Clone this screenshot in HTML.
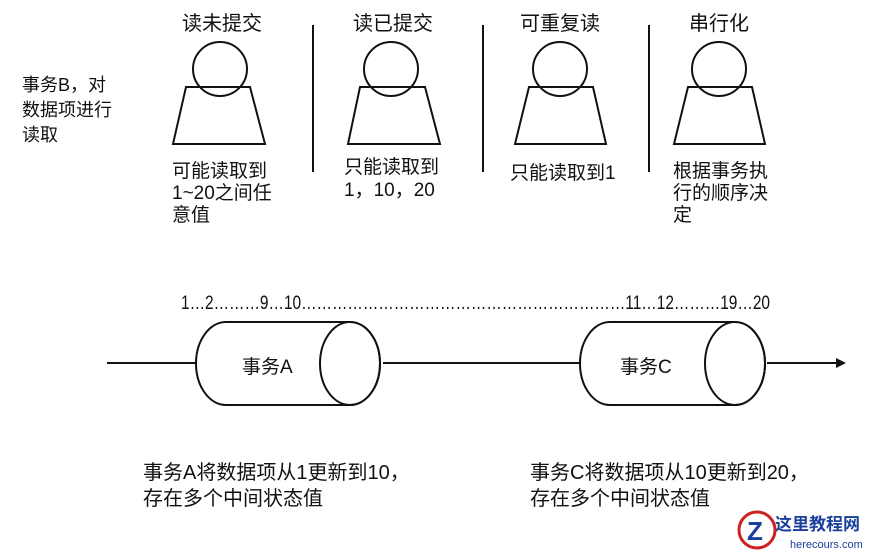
<!DOCTYPE html>
<html><head><meta charset="utf-8"><style>
body{margin:0;background:#fff;}
svg{display:block;}
text{font-family:"Liberation Sans","Noto Sans CJK SC",sans-serif;fill:#111;}
</style></head><body>
<svg width="890" height="556" viewBox="0 0 890 556" xmlns="http://www.w3.org/2000/svg">
<g fill="none" stroke="#111" stroke-width="2">
<circle cx="220" cy="69" r="27"/><polygon points="186,87 250,87 265,144 173,144"/>
<circle cx="391" cy="69" r="27"/><polygon points="360,87 425,87 440,144 348,144"/>
<circle cx="560" cy="69" r="27"/><polygon points="529,87 593,87 606,144 515,144"/>
<circle cx="719" cy="69" r="27"/><polygon points="688,87 752,87 765,144 674,144"/>
<line x1="313" y1="25" x2="313" y2="172"/>
<line x1="483" y1="25" x2="483" y2="172"/>
<line x1="649" y1="25" x2="649" y2="172"/>
<line x1="107" y1="363" x2="196" y2="363"/>
<line x1="383" y1="363" x2="580" y2="363"/>
<line x1="767" y1="363" x2="838" y2="363"/>
<path d="M226,322 L350,322 A30,41.5 0 0 1 350,405 L226,405 A30,41.5 0 0 1 226,322 Z"/>
<ellipse cx="350" cy="363.5" rx="30" ry="41.5"/>
<path d="M610,322 L735,322 A30,41.5 0 0 1 735,405 L610,405 A30,41.5 0 0 1 610,322 Z"/>
<ellipse cx="735" cy="363.5" rx="30" ry="41.5"/>
</g>
<polygon points="846,363 836,358 836,368" fill="#111"/>
<g font-size="19">
<text x="222" y="30" text-anchor="middle" font-size="20">读未提交</text>
<text x="393" y="30" text-anchor="middle" font-size="20">读已提交</text>
<text x="560" y="30" text-anchor="middle" font-size="20">可重复读</text>
<text x="719" y="30" text-anchor="middle" font-size="20">串行化</text>
<text x="22" y="91" font-size="18">事务B，对</text>
<text x="22" y="116" font-size="18">数据项进行</text>
<text x="22" y="141" font-size="18">读取</text>
<text x="172" y="177">可能读取到</text>
<text x="172" y="199">1~20之间任</text>
<text x="172" y="221">意值</text>
<text x="344" y="173">只能读取到</text>
<text x="344" y="196">1，10，20</text>
<text x="510" y="179">只能读取到1</text>
<text x="673" y="177">根据事务执</text>
<text x="673" y="199">行的顺序决</text>
<text x="673" y="221">定</text>
<text x="181" y="309" textLength="589" lengthAdjust="spacingAndGlyphs">1…2………9…10………………………………………………………11…12………19…20</text>
<text x="242" y="373">事务A</text>
<text x="620" y="373">事务C</text>
<text x="143" y="479" font-size="20">事务A将数据项从1更新到10，</text>
<text x="143" y="505" font-size="20">存在多个中间状态值</text>
<text x="530" y="479" font-size="20">事务C将数据项从10更新到20，</text>
<text x="530" y="505" font-size="20">存在多个中间状态值</text>
</g>
<text x="775" y="530" font-size="17" font-weight="bold" style="fill:#1a3f9c">这里教程网</text>
<text x="790" y="548" font-size="11" style="fill:#1a3f9c">herecours.com</text>
<circle cx="757" cy="530" r="18" fill="none" stroke="#c22" stroke-width="3"/>
<text x="747" y="540" font-size="26" font-weight="bold" style="fill:#1a3f9c">Z</text>
</svg>
</body></html>
